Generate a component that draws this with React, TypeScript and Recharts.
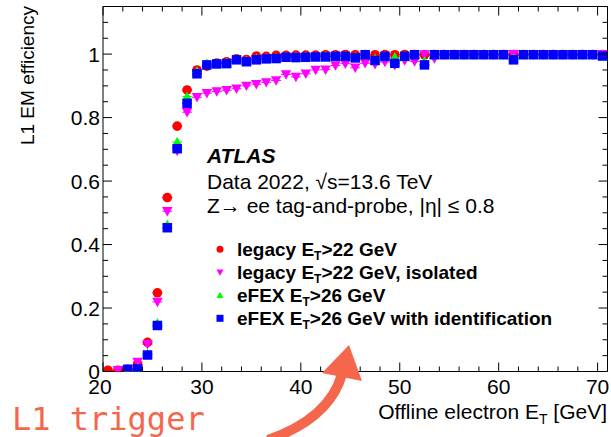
import React from 'react'
import { ScatterChart, Scatter, XAxis, YAxis, ErrorBar } from 'recharts'

// bin centres, offline electron E_T [GeV]
const ET_BINS = [
  20.5, 21.5, 22.5, 23.5, 24.5, 25.5, 26.5, 27.5, 28.5, 29.5,
  30.5, 31.5, 32.5, 33.5, 34.5, 35.5, 36.5, 37.5, 38.5, 39.5,
  40.5, 41.5, 42.5, 43.5, 44.5, 45.5, 46.5, 47.5, 48.5, 49.5,
  50.5, 51.5, 52.5, 53.5, 54.5, 55.5, 56.5, 57.5, 58.5, 59.5,
  60.5, 61.5, 62.5, 63.5, 64.5, 65.5, 66.5, 67.5, 68.5, 69.5,
  70.5,
]

const LEGACY_22 = [
  0.004, 0.004, 0.007, 0.022, 0.092, 0.248, 0.548, 0.773, 0.887, 0.95,
  0.962, 0.972, 0.976, 0.985, 0.983, 0.994, 0.993, 0.996, 0.996, 0.997,
  0.997, 0.997, 0.998, 0.998, 0.999, 0.998, 0.999, 0.998, 0.999, 0.998,
  0.999, 0.999, 0.998, 0.999, 0.999, 0.999, 0.999, 0.999, 0.999, 0.999,
  0.999, 0.999, 0.999, 0.999, 0.999, 0.999, 0.999, 0.999, 0.999, 0.999,
  0.999,
]

const LEGACY_22_ISO = [
  null, 0.004, 0.006, 0.03, 0.086, 0.219, 0.505, 0.695, 0.817, 0.864,
  0.877, 0.882, 0.886, 0.891, 0.9, 0.905, 0.911, 0.917, 0.936, 0.928,
  0.938, 0.95, 0.951, 0.964, 0.97, 0.957, 0.971, 0.968, 0.975, 0.965,
  0.98, 0.977, 0.999, 0.986, 0.998, 0.999, 0.999, 0.999, 0.999, 0.999,
  0.999, 1.0, 0.999, 0.999, 0.999, 0.999, 0.999, 0.999, 0.999, 0.999,
  1.0,
]

const EFEX_26 = [
  null, null, 0.008, 0.01, 0.056, 0.152, 0.462, 0.723, 0.866, 0.945,
  0.97, 0.972, 0.973, 0.984, 0.979, 0.985, 0.987, 0.988, 0.991, 0.991,
  0.992, 0.992, 0.993, 0.994, 0.994, 0.99, 0.998, 0.985, 0.994, 0.99,
  0.994, 0.998, 0.977, 0.998, 0.998, 0.998, 0.998, 0.998, 0.998, 0.998,
  0.998, 0.985, 0.998, 0.998, 0.998, 0.998, 0.998, 0.998, 0.998, 0.998,
  0.995,
]

const EFEX_26_ID = [
  null, null, 0.007, 0.008, 0.052, 0.145, 0.453, 0.702, 0.845, 0.938,
  0.966, 0.969, 0.97, 0.982, 0.976, 0.982, 0.985, 0.986, 0.99, 0.989,
  0.99, 0.991, 0.991, 0.993, 0.993, 0.988, 0.998, 0.98, 0.993, 0.971,
  0.993, 0.998, 0.966, 0.998, 0.998, 0.998, 0.998, 0.998, 0.998, 0.998,
  0.998, 0.982, 0.998, 0.998, 0.998, 0.998, 0.998, 0.998, 0.998, 0.998,
  0.994,
]

const BIN_HALF = 0.5
const X_TICKS = [20, 22, 24, 26, 28, 30, 32, 34, 36, 38, 40, 42, 44, 46, 48, 50, 52, 54, 56, 58, 60, 62, 64, 66, 68, 70]
const Y_TICKS = Array.from({ length: 24 }, (_, i) => Math.round(i * 5) / 100)

const FONT = '"Liberation Sans", Arial, Helvetica, sans-serif'

const toRows = (vals: (number | null)[]) =>
  ET_BINS.map((x, i) => ({ x, y: vals[i], ex: BIN_HALF })).filter((r) => r.y !== null)

const isMajorX = (v: number) => v % 10 === 0
const isMajorY = (v: number) => Math.round(v * 100) % 20 === 0

const BottomTick = (props: any) => {
  const { x, y, payload } = props
  const major = isMajorX(payload.value)
  // the first label sits a little left, as in the ROOT original
  const dx = payload.value === 20 ? -3 : 0
  return (
    <g>
      <line x1={x} x2={x} y1={y} y2={y - (major ? 9 : 5)} stroke="#000" />
      {major && (
        <text x={x + dx} y={y + 22.5} textAnchor="middle" fontSize={21} fontFamily={FONT} fill="#000">
          {payload.value}
        </text>
      )}
    </g>
  )
}

const TopTick = (props: any) => {
  const { x, y, payload } = props
  const major = isMajorX(payload.value)
  return <line x1={x} x2={x} y1={y} y2={y + (major ? 9 : 5)} stroke="#000" />
}

const LeftTick = (props: any) => {
  const { x, y, payload } = props
  const major = isMajorY(payload.value)
  return (
    <g>
      <line x1={x} x2={x + (major ? 9 : 5)} y1={y} y2={y} stroke="#000" />
      {major && payload.value <= 1 && (
        <text x={x - 3} y={y + 7.5} textAnchor="end" fontSize={21} fontFamily={FONT} fill="#000">
          {Number(payload.value.toFixed(2)).toString()}
        </text>
      )}
    </g>
  )
}

const RightTick = (props: any) => {
  const { x, y, payload } = props
  const major = isMajorY(payload.value)
  return <line x1={x} x2={x - (major ? 9 : 5)} y1={y} y2={y} stroke="#000" />
}

const Circle = ({ cx, cy, r = 4.8, fill }: any) => <circle cx={cx} cy={cy} r={r} fill={fill} />
const Square = ({ cx, cy, s = 9.5, fill }: any) => <rect x={cx - s / 2} y={cy - s / 2} width={s} height={s} fill={fill} />
const TriUp = ({ cx, cy, s = 10.5, fill }: any) => (
  <polygon points={`${cx - s / 2},${cy + s * 0.4} ${cx + s / 2},${cy + s * 0.4} ${cx},${cy - s * 0.5}`} fill={fill} />
)
const TriDown = ({ cx, cy, s = 10.5, fill }: any) => (
  <polygon points={`${cx - s / 2},${cy - s * 0.4} ${cx + s / 2},${cy - s * 0.4} ${cx},${cy + s * 0.5}`} fill={fill} />
)

const SERIES = [
  { name: 'legacy', data: toRows(LEGACY_22), color: '#ff0000', Mark: Circle },
  { name: 'legacyIso', data: toRows(LEGACY_22_ISO), color: '#ff00ff', Mark: TriDown },
  { name: 'efex', data: toRows(EFEX_26), color: '#00ff00', Mark: TriUp },
  { name: 'efexId', data: toRows(EFEX_26_ID), color: '#0000ff', Mark: Square },
]

const LEGEND = [
  { pre: 'legacy E', post: '>22 GeV', color: '#ff0000', Mark: Circle },
  { pre: 'legacy E', post: '>22 GeV, isolated', color: '#ff00ff', Mark: TriDown },
  { pre: 'eFEX E', post: '>26 GeV', color: '#00ff00', Mark: TriUp },
  { pre: 'eFEX E', post: '>26 GeV with identification', color: '#0000ff', Mark: Square },
]

const ANNOT = '#f4674d'

export default function App() {
  return (
    <div style={{ position: 'absolute', left: 0, top: 0, width: 611, height: 437, background: '#fff' }}>
      <ScatterChart width={611} height={437} margin={{ top: 5.5, right: 2.5, bottom: 64.5, left: 102 }}>
        <XAxis
          xAxisId="b"
          type="number"
          dataKey="x"
          domain={[20, 71]}
          ticks={X_TICKS}
          interval={0}
          height={1}
          tickSize={0}
          tickMargin={0}
          tickLine={false}
          tick={<BottomTick />}
          axisLine={{ stroke: '#000' }}
          allowDataOverflow
        />
        <XAxis
          xAxisId="t"
          orientation="top"
          type="number"
          dataKey="x"
          domain={[20, 71]}
          ticks={X_TICKS}
          interval={0}
          height={1}
          tickSize={0}
          tickMargin={0}
          tickLine={false}
          tick={<TopTick />}
          axisLine={{ stroke: '#000' }}
          allowDataOverflow
        />
        <YAxis
          yAxisId="l"
          type="number"
          dataKey="y"
          domain={[0, 1.15]}
          ticks={Y_TICKS}
          interval={0}
          width={1}
          tickSize={0}
          tickMargin={0}
          tickLine={false}
          tick={<LeftTick />}
          axisLine={{ stroke: '#000' }}
          allowDataOverflow
        />
        <YAxis
          yAxisId="r"
          orientation="right"
          type="number"
          dataKey="y"
          domain={[0, 1.15]}
          ticks={Y_TICKS}
          interval={0}
          width={1}
          tickSize={0}
          tickMargin={0}
          tickLine={false}
          tick={<RightTick />}
          axisLine={{ stroke: '#000' }}
          allowDataOverflow
        />
        <Scatter xAxisId="t" yAxisId="r" data={[]} isAnimationActive={false} />
        {SERIES.map((s) => (
          <Scatter
            key={s.name}
            xAxisId="b"
            yAxisId="l"
            data={s.data}
            isAnimationActive={false}
            shape={(p: any) => <s.Mark cx={p.cx} cy={p.cy} fill={s.color} />}
          >
            <ErrorBar dataKey="ex" direction="x" width={0} stroke={s.color} strokeWidth={1} isAnimationActive={false} />
          </Scatter>
        ))}
      </ScatterChart>

      <svg width={611} height={437} style={{ position: 'absolute', left: 0, top: 0, pointerEvents: 'none' }}>
        <text x={34} y={6} transform="rotate(-90, 34, 6)" textAnchor="end" fontSize={19} fontFamily={FONT}>
          L1 EM efficiency
        </text>
        <text x={607} y={419} textAnchor="end" fontSize={21} fontFamily={FONT}>
          Offline electron E<tspan dy={5} fontSize={14}>T</tspan>
          <tspan dy={-5}> [GeV]</tspan>
        </text>

        <text x={207} y={162.5} fontSize={21} fontWeight="bold" fontStyle="italic" fontFamily={FONT}>
          ATLAS
        </text>
        <text x={207} y={189} fontSize={21} fontFamily={FONT}>
          Data 2022, √s=13.6 TeV
        </text>
        <text x={207} y={212.5} fontSize={21} fontFamily={FONT}>
          Z→ ee tag-and-probe, |η| ≤ 0.8
        </text>

        {LEGEND.map((l, i) => {
          const cy = 249.3 + i * 23
          return (
            <g key={i}>
              <l.Mark cx={220} cy={cy} r={3.5} s={7} fill={l.color} />
              <text x={237} y={cy + 6.5} fontSize={19} fontWeight="bold" fontFamily={FONT}>
                {l.pre}
                <tspan dy={4} fontSize={12}>T</tspan>
                <tspan dy={-4}>{l.post}</tspan>
              </text>
            </g>
          )
        })}

        <text x={12} y={430} fontSize={32} fontFamily='"DejaVu Sans Mono", monospace' fill={ANNOT}>
          L1 trigger
        </text>
        <path d="M 268 440 Q 330 418 342 374" fill="none" stroke={ANNOT} strokeWidth={10} />
        <polygon points="349,345 322,373 362,381" fill={ANNOT} />
      </svg>
    </div>
  )
}
